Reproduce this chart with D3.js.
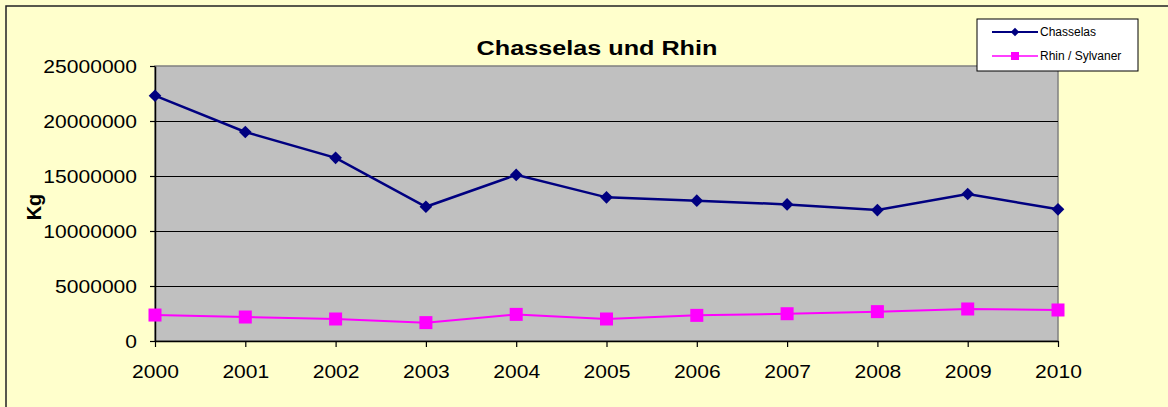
<!DOCTYPE html>
<html>
<head>
<meta charset="utf-8">
<script src="https://cdn.jsdelivr.net/npm/d3@7"></script>
<style>
  html, body { margin: 0; padding: 0; background: #FFFFCC; }
  svg { display: block; font-family: Arial, "Liberation Sans", sans-serif; }
</style>
</head>
<body>
<div id="lineChart"></div>
<script>
const years = [2000, 2001, 2002, 2003, 2004, 2005, 2006, 2007, 2008, 2009, 2010];
const chasselas = [22300000, 19000000, 16650000, 12200000, 15100000, 13060000, 12760000, 12420000, 11900000, 13360000, 11970000];
const rhin = [2360000, 2180000, 2000000, 1670000, 2420000, 2000000, 2330000, 2480000, 2670000, 2910000, 2820000];
const yTicks = [0, 5000000, 10000000, 15000000, 20000000, 25000000];
const seriesNames = ["Chasselas", "Rhin / Sylvaner"];

const width = 1168, height = 407;
const plot = {left: 155, right: 1058, top: 66, bottom: 341};
const textStretch = 1.17;

const svg = d3.select("div#lineChart")
  .append("svg")
  .attr("width", width)
  .attr("height", height);

// chart frame
svg.append("rect")
  .attr("x", 6).attr("y", 6)
  .attr("width", width + 10).attr("height", height + 10)
  .attr("fill", "#FFFFCC")
  .attr("stroke", "#222").attr("stroke-width", 1.5);

const xScale = d3.scaleLinear()
  .domain([years[0], years[years.length - 1]])
  .range([plot.left, plot.right]);

const yScale = d3.scaleLinear()
  .domain([0, d3.max(yTicks)])
  .range([plot.bottom, plot.top]);

// plot area
svg.append("rect")
  .attr("x", plot.left).attr("y", plot.top)
  .attr("width", plot.right - plot.left).attr("height", plot.bottom - plot.top)
  .attr("fill", "#C0C0C0")
  .attr("stroke", "#808080").attr("stroke-width", 1.5);

// gridlines
svg.append("g")
  .selectAll("line")
  .data(yTicks.filter(d => d > 0 && d < d3.max(yTicks)))
  .join("line")
  .attr("x1", plot.left).attr("x2", plot.right)
  .attr("y1", d => Math.round(yScale(d)) + 0.5).attr("y2", d => Math.round(yScale(d)) + 0.5)
  .attr("stroke", "#000").attr("stroke-width", 1);

// axes
const yAxis = svg.append("g")
  .attr("transform", `translate(${plot.left},0)`)
  .call(d3.axisLeft(yScale).tickValues(yTicks).tickFormat(d3.format("d")).tickSize(5).tickSizeOuter(0));

const xAxis = svg.append("g")
  .attr("transform", `translate(0,${plot.bottom})`)
  .call(d3.axisBottom(xScale).tickValues(years).tickFormat(d3.format("d")).tickSize(6).tickSizeOuter(0));

[yAxis, xAxis].forEach(ax => {
  ax.select(".domain").attr("stroke", "#000").attr("stroke-width", 1.5);
  ax.selectAll(".tick line").attr("stroke", "#000").attr("stroke-width", 1.2);
  ax.selectAll(".tick text")
    .attr("fill", "#000")
    .style("font-size", "18px")
    .attr("transform", `scale(${textStretch},1)`);
});
yAxis.selectAll(".tick text").attr("x", -18 / textStretch).attr("dy", "0.36em");
xAxis.selectAll(".tick text").attr("y", 24).attr("dy", "0.71em");

// lines
const line = d3.line()
  .x((d, i) => xScale(years[i]))
  .y(d => yScale(d));

svg.append("path")
  .datum(rhin)
  .attr("d", line)
  .attr("fill", "none")
  .attr("stroke", "#FF00FF")
  .attr("stroke-width", 2);

svg.append("path")
  .datum(chasselas)
  .attr("d", line)
  .attr("fill", "none")
  .attr("stroke", "#000080")
  .attr("stroke-width", 2.5);

// markers
svg.append("g")
  .selectAll("rect")
  .data(rhin)
  .join("rect")
  .attr("x", (d, i) => xScale(years[i]) - 6.5)
  .attr("y", d => yScale(d) - 6.5)
  .attr("width", 13).attr("height", 13)
  .attr("fill", "#FF00FF");

svg.append("g")
  .selectAll("path")
  .data(chasselas)
  .join("path")
  .attr("transform", (d, i) => `translate(${xScale(years[i])},${yScale(d)}) rotate(45)`)
  .attr("d", d3.symbol().type(d3.symbolSquare).size(80))
  .attr("fill", "#000080");

// title
svg.append("g")
  .attr("transform", "translate(597,55)")
  .append("text")
  .attr("text-anchor", "middle")
  .attr("transform", "scale(1.2,1)")
  .style("font-size", "21px")
  .style("font-weight", "bold")
  .text("Chasselas und Rhin");

// y axis label
svg.append("text")
  .attr("transform", "translate(41,207) rotate(-90)")
  .attr("text-anchor", "middle")
  .style("font-size", "20px")
  .style("font-weight", "bold")
  .text("Kg");

// legend
const legend = svg.append("g").attr("transform", "translate(977,19)");
legend.append("rect")
  .attr("width", 161).attr("height", 52)
  .attr("fill", "#fff")
  .attr("stroke", "#000").attr("stroke-width", 1);

const legendColors = ["#000080", "#FF00FF"];
const item = legend.selectAll("g.item")
  .data(seriesNames)
  .join("g")
  .attr("class", "item")
  .attr("transform", (d, i) => `translate(0,${13 + i * 24})`);

item.append("line")
  .attr("x1", 15).attr("x2", 61)
  .attr("stroke", (d, i) => legendColors[i])
  .attr("stroke-width", (d, i) => i === 0 ? 2 : 1.5);

item.append("path")
  .attr("transform", (d, i) => i === 0 ? "translate(38,0) rotate(45)" : "translate(38,0)")
  .attr("d", (d, i) => d3.symbol().type(d3.symbolSquare).size(i === 0 ? 36 : 64)())
  .attr("fill", (d, i) => legendColors[i]);

item.append("text")
  .attr("x", 63)
  .attr("dy", "0.36em")
  .style("font-size", "12px")
  .text(d => d);
</script>
</body>
</html>
